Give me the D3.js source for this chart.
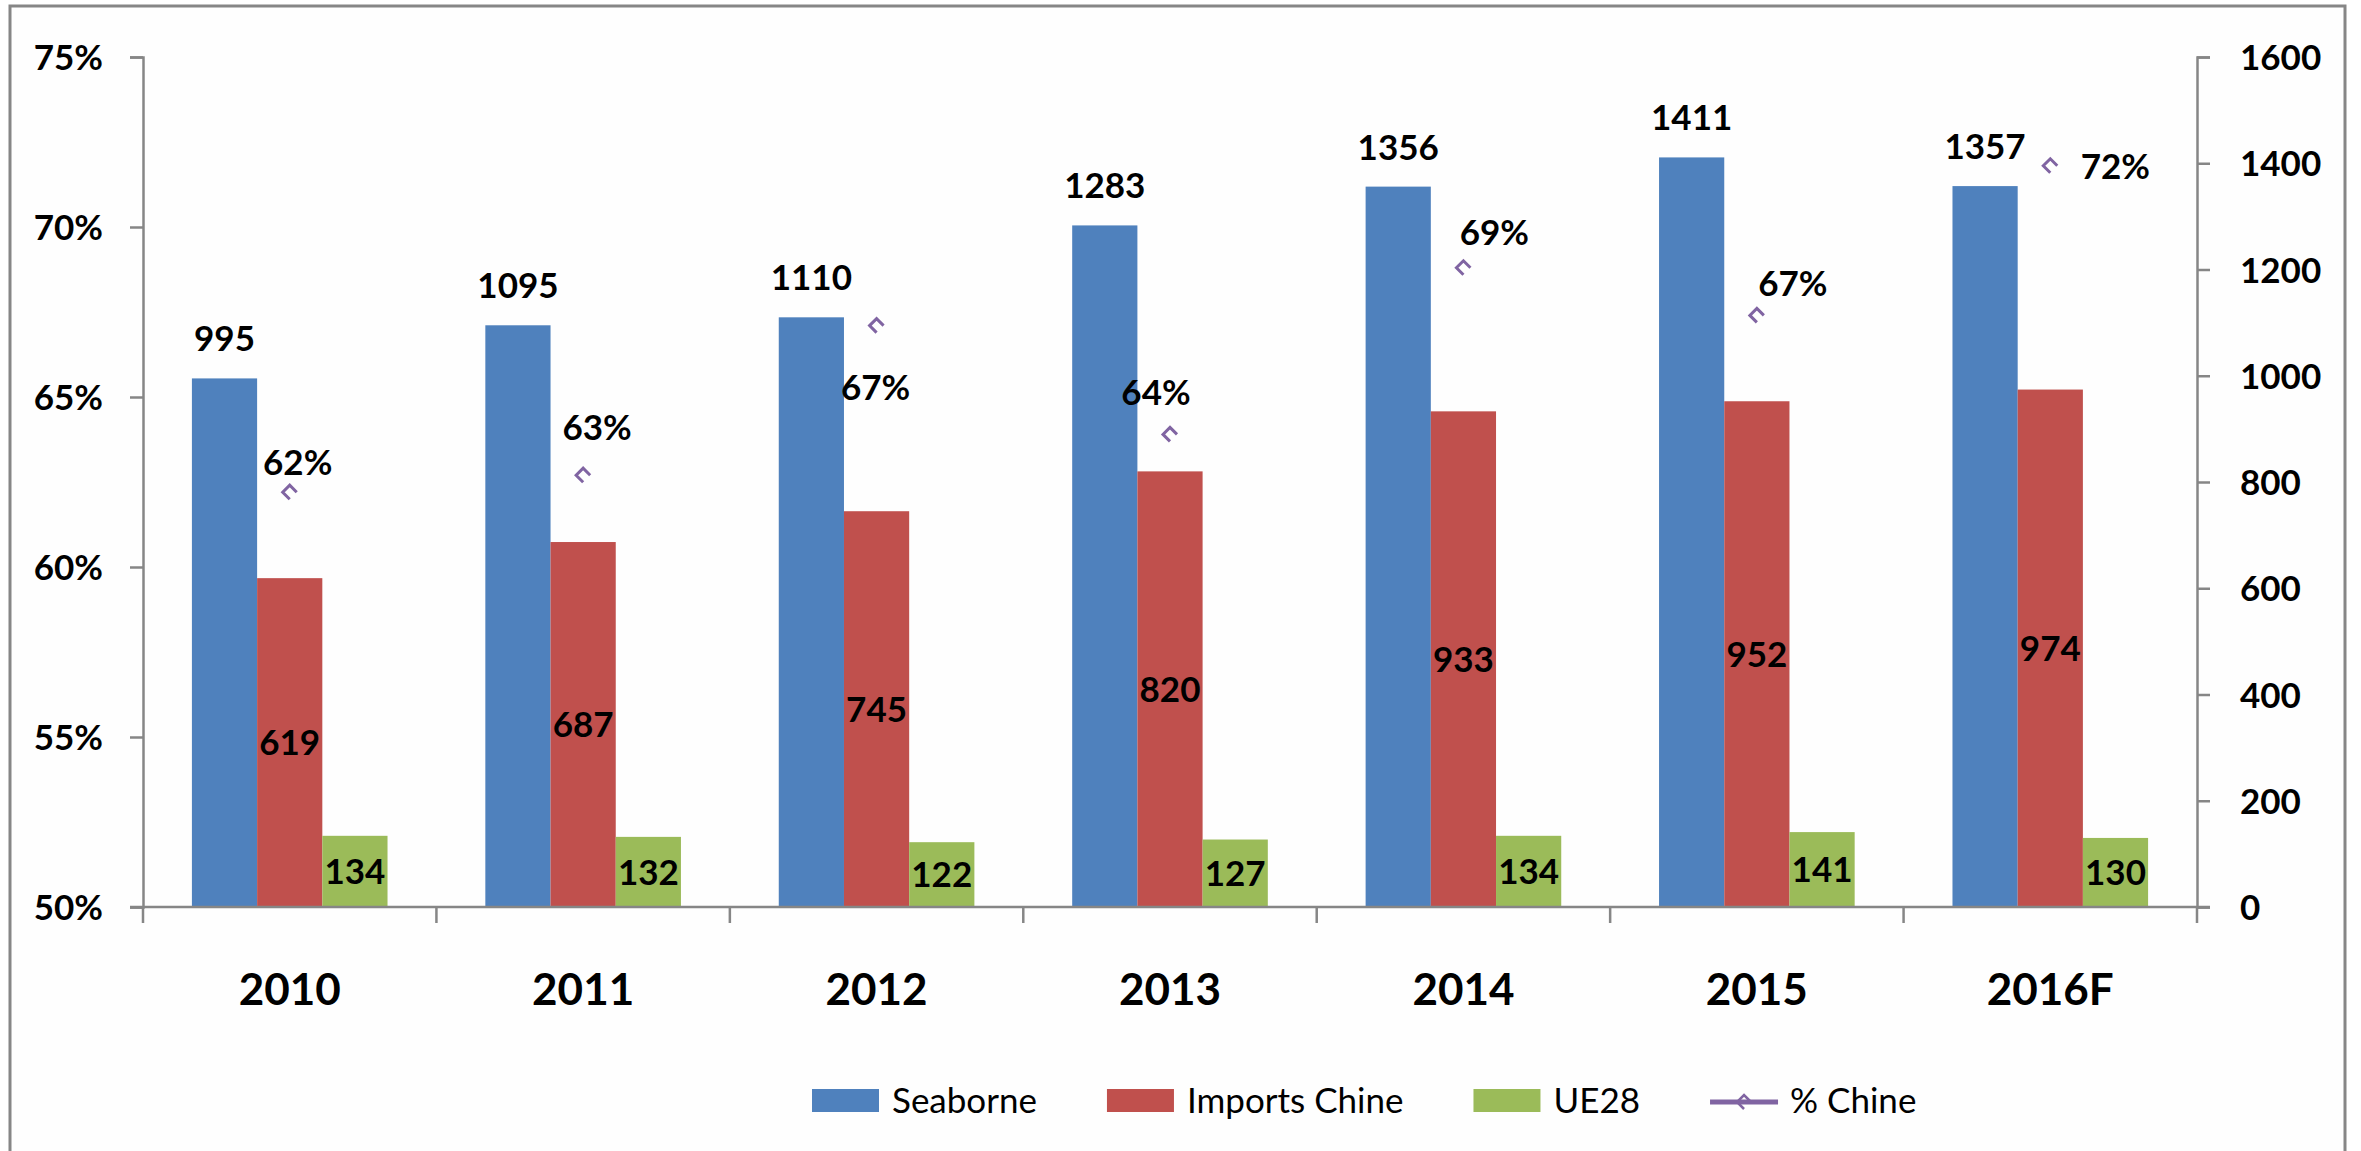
<!DOCTYPE html>
<html>
<head>
<meta charset="utf-8">
<script src="https://cdn.jsdelivr.net/npm/d3@7"></script>
<style>
  html, body { margin: 0; padding: 0; background: #ffffff; }
  svg { display: block; }
  text { font-family: Lato, "Open Sans", sans-serif; }
</style>
</head>
<body>
<svg id="chart" width="2361" height="1151"></svg>
<script>
// ---------- DATA ----------
const categories = ["2010", "2011", "2012", "2013", "2014", "2015", "2016F"];
const seaborne = [995, 1095, 1110, 1283, 1356, 1411, 1357];
const importsChine = [619, 687, 745, 820, 933, 952, 974];
const ue28 = [134, 132, 122, 127, 134, 141, 130];
const pctChine = [62.2, 62.7, 67.1, 63.9, 68.8, 67.4, 71.8];
const leftTicks = [50, 55, 60, 65, 70, 75];
const rightTicks = [0, 200, 400, 600, 800, 1000, 1200, 1400, 1600];
const seriesNames = ["Seaborne", "Imports Chine", "UE28", "% Chine"];

// ---------- LAYOUT (not data) ----------
const colors = { "Seaborne": "#4F81BD", "Imports Chine": "#C0504D", "UE28": "#9BBB59", "% Chine": "#8064A2" };
const pctLabelOffsets = [[8, -30], [14, -48], [-1, 62], [-14, -42], [31, -35], [36, -32], [65, 1]];
const plot = { left: 143, right: 2197, top: 57, bottom: 907 };
const axisColor = "#868686";

const svg = d3.select("#chart");

// outer border
svg.append("rect")
  .attr("x", 10).attr("y", 6)
  .attr("width", 2335).attr("height", 1160)
  .attr("fill", "#fefefe")
  .attr("stroke", axisColor).attr("stroke-width", 3);

// scales
const x = d3.scaleBand().domain(categories).range([plot.left, plot.right]).padding(0);
const barSeries = ["Seaborne", "Imports Chine", "UE28"];
const xs = d3.scaleBand().domain(barSeries).range([0, x.bandwidth()]).paddingInner(0).paddingOuter(0.75);
const yL = d3.scaleLinear().domain([50, 75]).range([plot.bottom, plot.top]);
const yR = d3.scaleLinear().domain([0, 1600]).range([plot.bottom, plot.top]);

const barData = { "Seaborne": seaborne, "Imports Chine": importsChine, "UE28": ue28 };

// bars
barSeries.forEach(s => {
  svg.append("g").selectAll("rect")
    .data(categories.map((c, i) => ({ c, v: barData[s][i] })))
    .join("rect")
    .attr("x", d => x(d.c) + xs(s))
    .attr("width", xs.bandwidth())
    .attr("y", d => yR(d.v))
    .attr("height", d => yR(0) - yR(d.v))
    .attr("fill", colors[s]);
});

// left axis
const gL = svg.append("g").attr("transform", `translate(${plot.left},0)`)
  .call(d3.axisLeft(yL).tickValues(leftTicks).tickSize(13).tickPadding(27).tickFormat(d => d + "%"));
// right axis
const gR = svg.append("g").attr("transform", `translate(${plot.right},0)`)
  .call(d3.axisRight(yR).tickValues(rightTicks).tickSize(13).tickPadding(30).tickFormat(d3.format("d")));

[gL, gR].forEach(g => {
  g.select(".domain").attr("stroke", axisColor).attr("stroke-width", 2.5);
  g.selectAll(".tick line").attr("stroke", axisColor).attr("stroke-width", 2.5);
  g.selectAll(".tick text")
    .attr("fill", "#000").attr("font-size", 35).attr("font-weight", "bold")
    .attr("font-family", "Lato, sans-serif").attr("dy", "0.36em");
});

// bottom axis (category axis, ticks between categories)
const gB = svg.append("g");
gB.append("line")
  .attr("x1", plot.left - 13).attr("x2", plot.right + 13)
  .attr("y1", plot.bottom).attr("y2", plot.bottom)
  .attr("stroke", axisColor).attr("stroke-width", 2.5);
const boundaries = categories.map(c => x(c)).concat([x(categories[categories.length - 1]) + x.bandwidth()]);
gB.selectAll("line.tk").data(boundaries).join("line").attr("class", "tk")
  .attr("x1", d => d).attr("x2", d => d)
  .attr("y1", plot.bottom).attr("y2", plot.bottom + 16)
  .attr("stroke", axisColor).attr("stroke-width", 2.5);
gB.selectAll("text").data(categories).join("text")
  .attr("x", d => x(d) + x.bandwidth() / 2)
  .attr("y", 1005)
  .attr("text-anchor", "middle")
  .attr("font-size", 44).attr("font-weight", "bold").attr("fill", "#000")
  .text(d => d);

// data labels for bars
const labelFont = 35;
svg.append("g").selectAll("text")
  .data(categories.map((c, i) => ({ c, v: seaborne[i] })))
  .join("text")
  .attr("x", d => x(d.c) + xs("Seaborne") + xs.bandwidth() / 2)
  .attr("y", d => yR(d.v) - 27)
  .attr("text-anchor", "middle")
  .attr("font-size", labelFont).attr("font-weight", "bold").attr("fill", "#000")
  .text(d => d.v);

["Imports Chine", "UE28"].forEach(s => {
  svg.append("g").selectAll("text")
    .data(categories.map((c, i) => ({ c, v: barData[s][i] })))
    .join("text")
    .attr("x", d => x(d.c) + xs(s) + xs.bandwidth() / 2)
    .attr("y", d => (yR(d.v) + yR(0)) / 2)
    .attr("dy", "0.36em")
    .attr("text-anchor", "middle")
    .attr("font-size", labelFont).attr("font-weight", "bold").attr("fill", "#000")
    .text(d => d.v);
});

// % Chine markers (no connecting line)
const markerPath = "M7,0 L0,-7 L-7,0 L0,7";
const pctG = svg.append("g");
pctG.selectAll("path")
  .data(categories.map((c, i) => ({ c, v: pctChine[i] })))
  .join("path")
  .attr("transform", d => `translate(${x(d.c) + x.bandwidth() / 2},${yL(d.v)})`)
  .attr("d", markerPath)
  .attr("fill", "none")
  .attr("stroke", colors["% Chine"]).attr("stroke-width", 3);

pctG.selectAll("text")
  .data(categories.map((c, i) => ({ c, v: pctChine[i], o: pctLabelOffsets[i] })))
  .join("text")
  .attr("x", d => x(d.c) + x.bandwidth() / 2 + d.o[0])
  .attr("y", d => yL(d.v) + d.o[1])
  .attr("dy", "0.36em")
  .attr("text-anchor", "middle")
  .attr("font-size", labelFont).attr("font-weight", "bold").attr("fill", "#000")
  .text(d => Math.round(d.v) + "%");

// legend
const legendY = 1100;
const leg = svg.append("g");
let lx = 812;
seriesNames.forEach(s => {
  const g = leg.append("g").attr("transform", `translate(${lx},${legendY})`);
  if (s === "% Chine") {
    g.append("line").attr("x1", 0).attr("x2", 68).attr("y1", 2).attr("y2", 2)
      .attr("stroke", colors[s]).attr("stroke-width", 5);
    g.append("path").attr("transform", "translate(34,2)").attr("d", markerPath)
      .attr("fill", "none").attr("stroke", colors[s]).attr("stroke-width", 2.5);
  } else {
    g.append("rect").attr("x", 0).attr("y", -11).attr("width", 67).attr("height", 23)
      .attr("fill", colors[s]);
  }
  const t = g.append("text").attr("x", 80).attr("y", 0).attr("dy", "0.36em")
    .attr("font-size", 35).attr("fill", "#000").text(s);
  const w = t.node().getComputedTextLength();
  lx += 80 + w + 70;
});
</script>
</body>
</html>
